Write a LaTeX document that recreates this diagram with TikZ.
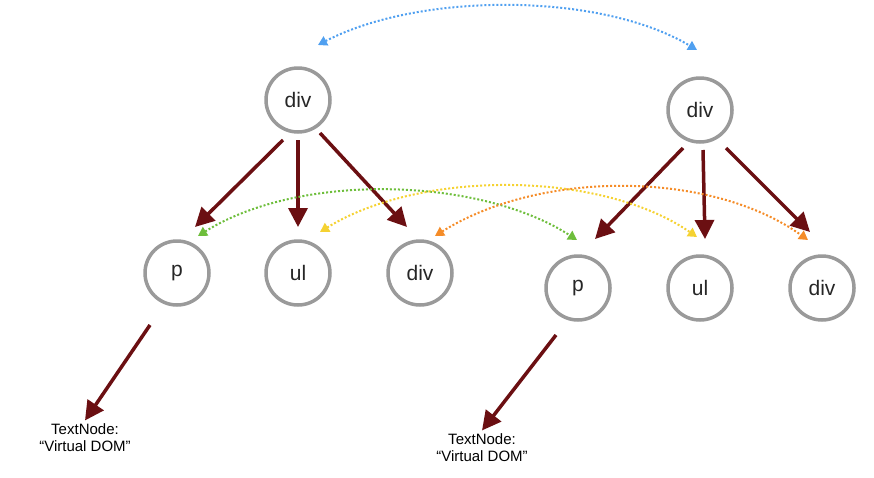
\documentclass[tikz,border=0pt]{standalone}
\usepackage{fontspec}
\setmainfont{Liberation Sans}
\usetikzlibrary{positioning,arrows.meta}
\definecolor{edgered}{HTML}{6B0F12}
\definecolor{ringgray}{HTML}{9A9A9A}
\tikzset{
  elem/.style ={circle, draw=ringgray, line width=3.5pt, minimum size=64pt,
                font=\fontsize{21}{24}\selectfont, text=black!85},
  tree/.style ={edgered, line width=3.5pt, -{Triangle[length=19pt,width=19pt]}},
  diff/.style ={line width=2pt, dotted, {Triangle[length=9pt,width=10pt]}-{Triangle[length=9pt,width=10pt]}},
  leaf/.style ={align=center, font=\fontsize{15}{17}\selectfont},
}
\begin{document}
\begin{tikzpicture}[x=1pt, y=-1pt]
  \useasboundingbox (0,0) rectangle (874,477);
  %--- old tree ---
  \node[elem] (ldiv) at (298,100) {div};
  \node[elem] (lp)   at (177,273) {p};
  \node[elem] (lul)  at (298,273) {ul};
  \node[elem] (ldv)  at (420,273) {div};
  \node[leaf] (ltxt) at (85,438) {TextNode:\\“Virtual DOM”};
  %--- new tree ---
  \node[elem] (rdiv) at (700,110) {div};
  \node[elem] (rp)   at (578,288) {p};
  \node[elem] (rul)  at (700,288) {ul};
  \node[elem] (rdv)  at (822,288) {div};
  \node[leaf] (rtxt) at (482,448) {TextNode:\\“Virtual DOM”};

  %--- parent/child edges ---
  \coordinate (la) at (283,140); \coordinate (lb) at (298,140); \coordinate (lc) at (320,133);
  \draw[tree] (la) -- (195,227);
  \draw[tree] (lb) -- (298,227);
  \draw[tree] (lc) -- (407,227);
  \draw[tree] (150,325) -- (ltxt.north);
  \coordinate (ra) at (683,148); \coordinate (rb) at (703,150); \coordinate (rc) at (726,148);
  \draw[tree] (ra) -- (595,239);
  \draw[tree] (rb) -- (705,239);
  \draw[tree] (rc) -- (810,232);
  \draw[tree] (556,335) -- (rtxt.north);

  %--- diff links ---
  \draw[diff, color={rgb,255:red,80;green,160;blue,240}] (318,45) .. controls (420,-8) and (600,-8) .. (697,50);
  \draw[diff, color={rgb,255:red,110;green,190;blue,60}] (198,236) .. controls (300,172) and (480,177) .. (577,240);
  \draw[diff, color={rgb,255:red,245;green,210;blue,50}] (320,232) .. controls (420,170) and (600,170) .. (697,237);
  \draw[diff, color={rgb,255:red,245;green,140;blue,40}] (435,236) .. controls (540,170) and (710,170) .. (808,240);
\end{tikzpicture}
\end{document}
